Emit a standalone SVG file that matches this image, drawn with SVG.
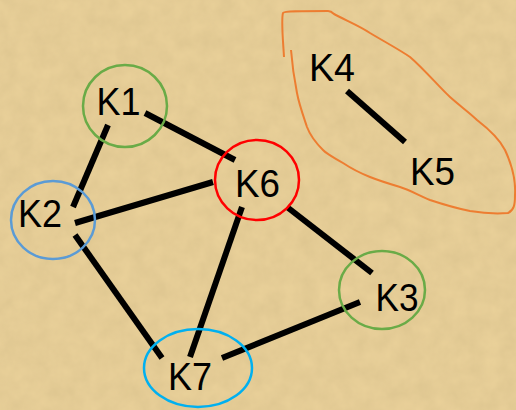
<svg xmlns="http://www.w3.org/2000/svg" width="516" height="410" viewBox="0 0 516 410">
  <defs>
    <filter id="paper" x="0" y="0" width="100%" height="100%">
      <feTurbulence type="fractalNoise" baseFrequency="0.06" numOctaves="3" seed="7" result="n"/>
      <feColorMatrix in="n" type="matrix" values="0 0 0 0 0.55  0 0 0 0 0.42  0 0 0 0 0.2  0 0 0 0.35 -0.05" result="c"/>
      <feComposite in="c" in2="SourceGraphic" operator="in"/>
    </filter>
    <style>
      .edge { stroke: #000; stroke-width: 6; fill: none; }
      .ring { fill: none; stroke-width: 2.5; }
      .lbl { font-family: "Liberation Sans", Arial, sans-serif; font-size: 38px; fill: #000; text-anchor: middle; }
    </style>
  </defs>
  <rect width="516" height="410" fill="#E9D099"/>
  <rect width="516" height="410" fill="#E9D099" filter="url(#paper)"/>

  <g id="connectors">
    <line class="edge" x1="145" y1="113" x2="235" y2="160"/>
    <line class="edge" x1="108" y1="125" x2="73" y2="207"/>
    <line class="edge" x1="75" y1="223" x2="213" y2="182"/>
    <line class="edge" x1="75" y1="235" x2="162" y2="358"/>
    <line class="edge" x1="242" y1="207" x2="190" y2="357"/>
    <line class="edge" x1="287" y1="207" x2="372" y2="273"/>
    <line class="edge" x1="222" y1="358" x2="360" y2="302"/>
    <line class="edge" x1="347" y1="91" x2="405" y2="142"/>
  </g>

  <g id="K1">
    <ellipse class="ring" cx="125" cy="106" rx="42" ry="41" stroke="#6AAB47"/>
    <text class="lbl" x="118.5" y="115" textLength="44" lengthAdjust="spacingAndGlyphs">K1</text>
  </g>
  <g id="K2">
    <ellipse class="ring" cx="53" cy="220" rx="42" ry="39" stroke="#5B9BD5"/>
    <text class="lbl" x="40" y="227" textLength="44" lengthAdjust="spacingAndGlyphs">K2</text>
  </g>
  <g id="K6">
    <ellipse class="ring" cx="257" cy="180" rx="42" ry="40" stroke="#FF0000"/>
    <text class="lbl" x="257.5" y="197" textLength="45" lengthAdjust="spacingAndGlyphs">K6</text>
  </g>
  <g id="K3">
    <ellipse class="ring" cx="382" cy="290" rx="43" ry="39" stroke="#6AAB47"/>
    <text class="lbl" x="397" y="311" textLength="43" lengthAdjust="spacingAndGlyphs">K3</text>
  </g>
  <g id="K7">
    <ellipse class="ring" cx="198" cy="368" rx="54" ry="39" stroke="#00B0F0"/>
    <text class="lbl" x="190" y="390" textLength="44" lengthAdjust="spacingAndGlyphs">K7</text>
  </g>
  <g id="K4">
    <text class="lbl" x="332" y="81" textLength="46" lengthAdjust="spacingAndGlyphs">K4</text>
  </g>
  <g id="K5">
    <text class="lbl" x="432.5" y="185" textLength="45" lengthAdjust="spacingAndGlyphs">K5</text>
  </g>

  <path d="M284 57 C283 40 281 20 283 13 C284 11 300 11 328 11 C331 11 332 12 334 14 C345 20 360 26 370 33 C385 42 400 50 410 57 C425 70 440 88 450 97 C460 106 470 113 477 120 C490 130 500 140 505 150 C512 165 516 180 515 195 C515 205 514 210 508 213 C495 214 482 213 470 211 C455 208 442 204 430 200 C420 196 410 190 400 187 C390 184 380 181 370 177 C360 173 352 169 343 163 C335 158 328 155 323 150 C316 143 310 135 307 127 C303 115 299 104 297 93 C294 78 292 63 291 50" fill="none" stroke="#ED7D31" stroke-width="2"/>
</svg>
